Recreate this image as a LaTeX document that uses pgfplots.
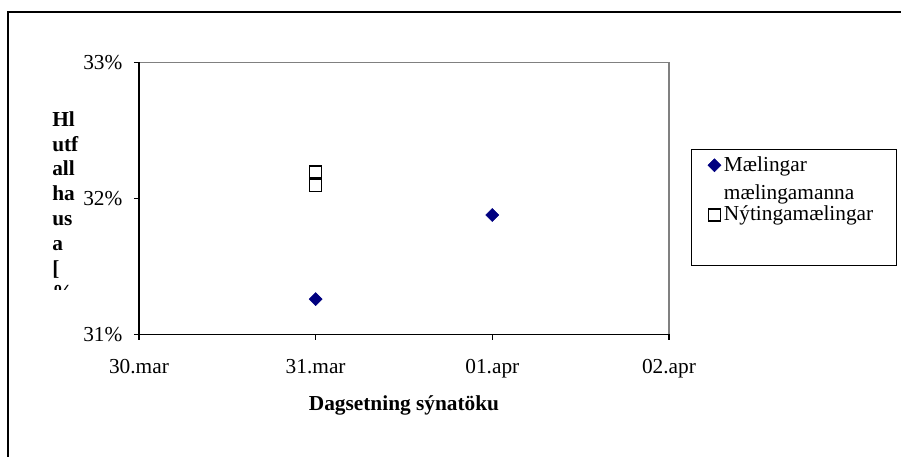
\documentclass[border=0pt]{standalone}
\usepackage{pgfplots}
\pgfplotsset{compat=1.18}
\usepackage{fontspec}
\setmainfont{Liberation Serif}
\definecolor{navy}{RGB}{0,0,128}
\definecolor{axgray}{RGB}{128,128,128}
\begin{document}
\fontsize{16}{19}\selectfont
\begin{tikzpicture}
\useasboundingbox (0pt,0pt) rectangle (675.75pt,342.75pt);
\draw[line width=1.1pt] (6pt,0pt) -- (6pt,333.75pt) -- (675.75pt,333.75pt);
\begin{scope}
\clip (0pt,125.25pt) rectangle (100pt,342.75pt);
\node[anchor=base west,inner sep=0pt,font=\bfseries] at (39pt,248pt) {Hl};
\node[anchor=base west,inner sep=0pt,font=\bfseries] at (39pt,229.35pt) {utf};
\node[anchor=base west,inner sep=0pt,font=\bfseries] at (39pt,210.75pt) {all};
\node[anchor=base west,inner sep=0pt,font=\bfseries] at (39pt,192.15pt) {ha};
\node[anchor=base west,inner sep=0pt,font=\bfseries] at (39pt,173.55pt) {us};
\node[anchor=base west,inner sep=0pt,font=\bfseries] at (39pt,154.95pt) {a};
\node[anchor=base west,inner sep=0pt,font=\bfseries] at (39pt,136.35pt) {[};
\node[anchor=base west,inner sep=0pt,font=\bfseries] at (39pt,117.75pt) {\%};
\end{scope}
\begin{axis}[
  at={(104.25pt,91.875pt)}, anchor=south west,
  scale only axis, width=397.5pt, height=204.15pt,
  xmin=0, xmax=3, ymin=31, ymax=33,
  xtick={0,1,2,3}, xticklabels={30.mar,31.mar,01.apr,02.apr},
  ytick={31,32,33}, yticklabels={31\%,32\%,33\%},
  xtick pos=left, ytick pos=left,
  tick align=outside, major tick length=3.75pt,
  tick style={black, line width=0.8pt},
  axis line style={draw=none},
  xticklabel style={anchor=base, inner sep=0pt, yshift=-25.15pt},
  yticklabel style={anchor=east, inner sep=0pt, xshift=-8.5pt},
  xlabel={Dagsetning sýnatöku},
  xlabel style={at={(axis description cs:0.5,-0.2774)}, anchor=base, inner sep=0pt, font=\bfseries},
  clip=false,
  legend style={draw=none, fill=none, inner sep=0pt, at={(axis description cs:1.073,0.6558)}, anchor=north west, row sep=23.8pt, column sep=2.25pt, nodes={inner sep=0pt}},
  legend cell align=left,
]
\draw[axgray, line width=1.1pt] (rel axis cs:0,1) -- (rel axis cs:1,1) -- (rel axis cs:1,0);
\draw[black, line width=0.9pt] (rel axis cs:0,1) -- (rel axis cs:0,0) -- (rel axis cs:1,0);
\draw[black, line width=0.6pt] (axis description cs:1.0415,0.2553) rectangle (axis description cs:1.4283,0.6815);
\addplot[only marks, mark=square*, mark size=3.45pt, color=navy, mark options={rotate=45}] coordinates {(1,31.26) (2,31.878)};
\addlegendentry{\parbox[t]{150pt}{\baselineskip=21pt Mælingar\\mælingamanna}}
\addplot[only marks, mark=square, mark size=4.5pt, black, mark options={fill=white, line width=1.1pt}] coordinates {(1,32.194) (1,32.095)};
\addlegendentry{Nýtingamælingar}
\end{axis}
\end{tikzpicture}
\end{document}
